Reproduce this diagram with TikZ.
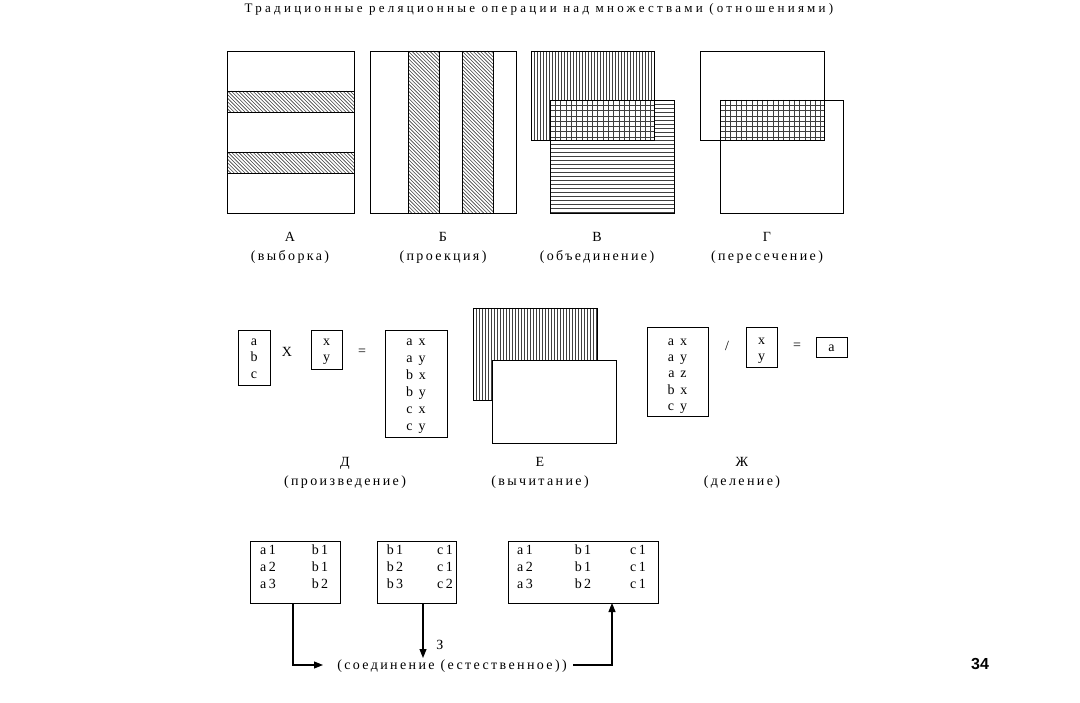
\documentclass[tikz,border=0pt]{standalone}
\usepackage{fontspec}
\setmainfont{Liberation Serif}
\newfontfamily\spacedfont[LetterSpace=17]{Liberation Serif}
\newfontfamily\titlefont[LetterSpace=25]{Liberation Serif}
\newfontfamily\boldsans{Liberation Sans}
\usetikzlibrary{arrows.meta}
% explicit line fills (no pattern tiles)
\newcommand\diagfill[4]{%
  \begin{scope}
  \clip (#1,#2) rectangle (#3,#4);
  \pgfmathsetmacro\hh{#4-#2}\pgfmathsetmacro\xs{#1-\hh}\pgfmathsetmacro\xt{\xs+3.6}%
  \foreach \x in {\xs,\xt,...,#3} \draw[hline] (\x,#2) -- ++(\hh,\hh);
  \end{scope}}
\newcommand\vertfill[4]{%
  \begin{scope}
  \clip (#1,#2) rectangle (#3,#4);
  \pgfmathsetmacro\xt{#1+3}%
  \foreach \x in {#1,\xt,...,#3} \draw[hline] (\x,#2) -- (\x,#4);
  \end{scope}}
\newcommand\horfill[4]{%
  \begin{scope}
  \clip (#1,#2) rectangle (#3,#4);
  \pgfmathsetmacro\yt{#2+4}%
  \foreach \y in {#2,\yt,...,#4} \draw[hline] (#1,\y) -- (#3,\y);
  \end{scope}}
\newcommand\gridfill[4]{%
  \begin{scope}
  \clip (#1,#2) rectangle (#3,#4);
  \fill[white] (#1,#2) rectangle (#3,#4);
  \pgfmathsetmacro\xt{#1+5.3}\pgfmathsetmacro\yt{#2+5.3}%
  \foreach \x in {#1,\xt,...,#3} \draw[hline] (\x,#2) -- (\x,#4);
  \foreach \y in {#2,\yt,...,#4} \draw[hline] (#1,\y) -- (#3,\y);
  \end{scope}}
\begin{document}
\begin{tikzpicture}[x=1pt,y=-1pt,
  frame/.style={draw=black, line width=0.8pt},
  hline/.style={draw=black!75, line width=0.6pt},
  lbl/.style={font=\spacedfont\fontsize{14}{14}\selectfont, inner sep=0pt, anchor=mid, yshift=-2pt},
  cell/.style={font=\spacedfont\fontsize{14}{14}\selectfont, inner sep=0pt, anchor=mid, yshift=-2pt},
  box/.style={draw=black, line width=0.8pt, inner sep=0pt, outer sep=0pt},
  arr/.style={draw=black, line width=1.1pt, -{Triangle[length=9pt,width=7pt]}},
  ]
\useasboundingbox (0,0) rectangle (1080,703);

% title
\node[font=\titlefont\fontsize{13}{13}\selectfont, inner sep=0pt, anchor=mid] (title) at (539,10)
  {Традиционные реляционные операции над множествами (отношениями)};

% ---- А
\draw[frame] (227,51) rectangle (354,213);
\diagfill{227}{91}{354}{112}
\diagfill{227}{152}{354}{173}
\draw[frame] (227,91) rectangle (354,112);
\draw[frame] (227,152) rectangle (354,173);
% ---- Б
\draw[frame] (370,51) rectangle (516,213);
\diagfill{408}{51}{439}{213}
\diagfill{462}{51}{493}{213}
\draw[frame] (408,51) rectangle (439,213);
\draw[frame] (462,51) rectangle (493,213);
% ---- В
\vertfill{531}{51}{654}{140}
\horfill{550}{100}{674}{213}
\gridfill{550}{100}{654}{140}
\draw[frame] (531,51) rectangle (654,140);
\draw[frame] (550,100) rectangle (674,213);
% ---- Г
\gridfill{720}{100}{824}{140}
\draw[frame] (700,51) rectangle (824,140);
\draw[frame] (720,100) rectangle (843,213);

\node[lbl] (la1) at (290,237) {А};
\node[lbl] (la2) at (290,256) {(выборка)};
\node[lbl] (lb1) at (443,237) {Б};
\node[lbl] (lb2) at (443,256) {(проекция)};
\node[lbl] (lc1) at (597,237) {В};
\node[lbl] (lc2) at (597,256) {(объединение)};
\node[lbl] (ld1) at (767,237) {Г};
\node[lbl] (ld2) at (767,256) {(пересечение)};

% ---- Д
\node[box, minimum width=32pt, minimum height=55pt] (abc) at (254,357.5) {};
\foreach \t [count=\i from 0] in {a,b,c}
  \node[cell] (abc\i) at (254,341+16.5*\i) {\t};
\node[lbl] (times) at (287,352) {X};
\node[box, minimum width=31pt, minimum height=39pt] (xy1) at (326.5,349.5) {};
\foreach \t [count=\i from 0] in {x,y}
  \node[cell] (xya\i) at (326.5,341+16.5*\i) {\t};
\node[lbl] (eq1) at (362,351) {=};
\node[box, minimum width=62pt, minimum height=107pt] (prod) at (416,383.5) {};
\foreach \t [count=\i from 0] in {a x,a y,b x,b y,c x,c y}
  \node[cell] (prod\i) at (416,341+17*\i) {\t};
\node[lbl] (le1) at (345,462) {Д};
\node[lbl] (le2) at (345,481) {(произведение)};

% ---- Е
\vertfill{473}{308}{597}{400}
\draw[frame] (473,308) rectangle (597,400);
\draw[frame, fill=white] (492,360) rectangle (616,443);
\node[lbl] (lf1) at (540,462) {Е};
\node[lbl] (lf2) at (540,481) {(вычитание)};

% ---- Ж
\node[box, minimum width=61pt, minimum height=89pt] (divd) at (677.5,371.5) {};
\foreach \t [count=\i from 0] in {a x,a y,a z,b x,c y}
  \node[cell] (divd\i) at (677.5,341+16.25*\i) {\t};
\node[lbl] (slash) at (727,346) {/};
\node[box, minimum width=31pt, minimum height=40pt] (xy2) at (761.5,347) {};
\foreach \t [count=\i from 0] in {x,y}
  \node[cell] (xyb\i) at (761.5,340+16.5*\i) {\t};
\node[lbl] (eq2) at (797,345) {=};
\node[box, minimum width=31pt, minimum height=20pt] (res) at (831.5,347) {};
\node[cell] (resa) at (831.5,347) {a};
\node[lbl] (lg1) at (742,462) {Ж};
\node[lbl] (lg2) at (742,481) {(деление)};

% ---- З
\node[box, minimum width=90pt, minimum height=62pt] (t1) at (295,572) {};
\node[box, minimum width=79pt, minimum height=62pt] (t2) at (416.5,572) {};
\node[box, minimum width=150pt, minimum height=62pt] (t3) at (583,572) {};
\foreach \a/\b [count=\i from 0] in {a1/b1,a2/b1,a3/b2}{
  \node[cell] (t1a\i) at (268,550+17*\i) {\a};
  \node[cell] (t1b\i) at (320,550+17*\i) {\b};
}
\foreach \a/\b [count=\i from 0] in {b1/c1,b2/c1,b3/c2}{
  \node[cell] (t2a\i) at (395,550+17*\i) {\a};
  \node[cell] (t2b\i) at (445,550+17*\i) {\b};
}
\foreach \a/\b/\c [count=\i from 0] in {a1/b1/c1,a2/b1/c1,a3/b2/c1}{
  \node[cell] (t3a\i) at (525,550+17*\i) {\a};
  \node[cell] (t3b\i) at (583,550+17*\i) {\b};
  \node[cell] (t3c\i) at (638,550+17*\i) {\c};
}
\node[lbl] (lh1) at (440,645) {З};
\node[lbl] (lh2) at (452,665) {(соединение (естественное))};
\coordinate (tip1) at (323,665);
\coordinate (tip2) at (423,658);
\coordinate (start3) at (573,665);
\draw[arr] ([xshift=-2pt]t1.south) |- (tip1);
\draw[arr] (t2.south -| tip2) -- (tip2);
\draw[arr] (start3) -| ([xshift=29pt]t3.south);

\node[font=\boldsans\bfseries\fontsize{16}{16}\selectfont, inner sep=0pt, anchor=mid] (page) at (980,667) {34};
\end{tikzpicture}
\end{document}
